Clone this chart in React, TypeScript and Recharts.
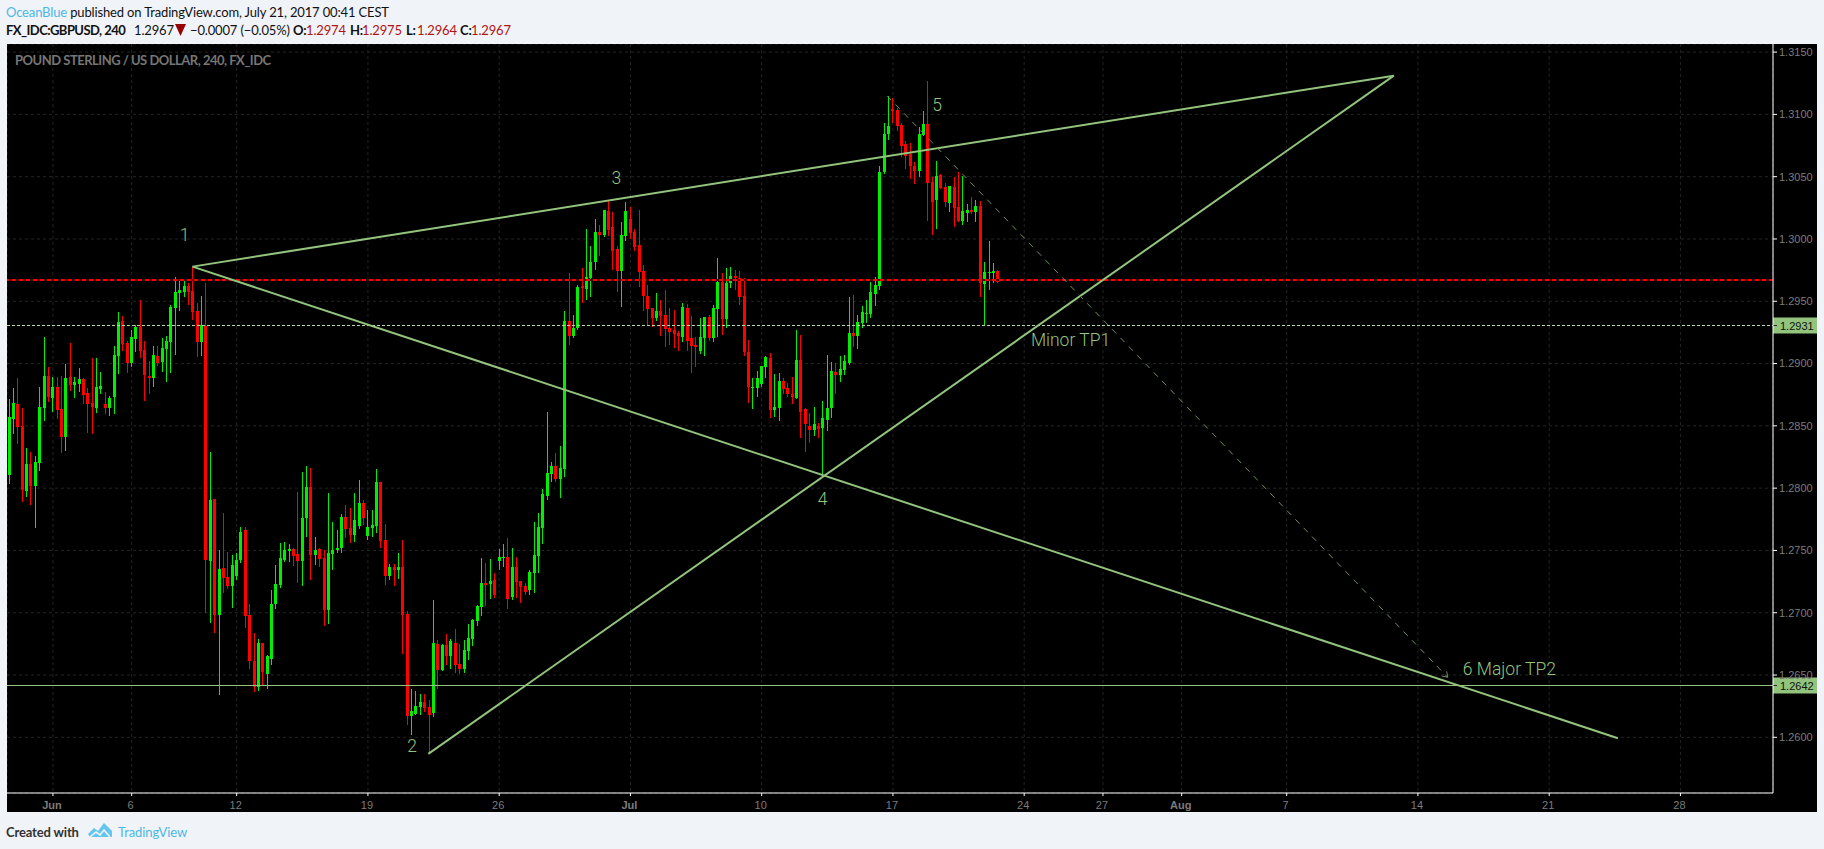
import React from "react";
import { ComposedChart, Bar, XAxis, YAxis, CartesianGrid, ReferenceLine, ReferenceDot } from "recharts";

const highs = [
1.28716,1.28804,1.28884,1.28644,1.28323,1.28290,1.28258,1.28812,1.29213,1.28973,
1.28892,1.28892,1.28900,1.28997,1.29165,1.28892,1.28965,1.28884,1.28804,1.29045,
1.29045,1.28933,1.28772,1.28740,1.29141,1.29414,1.29382,1.29181,1.29270,1.29310,
1.29510,1.29181,1.29021,1.29141,1.29141,1.29205,1.29221,1.29470,1.29695,1.29671,
1.29663,1.29647,1.29775,1.29486,1.29543,1.29647,1.28290,1.27913,1.27504,1.27801,
1.27488,1.27464,1.27480,1.27689,1.27689,1.27071,1.26838,1.26790,1.26758,1.26661,
1.27183,1.27384,1.27560,1.27568,1.27552,1.27520,1.27969,1.28130,1.28178,1.28162,
1.27608,1.27520,1.27504,1.27961,1.27729,1.27664,1.27793,1.27865,1.27841,1.27961,
1.28066,1.27905,1.27825,1.27825,1.28154,1.28050,1.27713,1.27392,1.27392,1.27480,
1.27584,1.27014,1.26388,1.26372,1.26348,1.26348,1.26300,1.27103,1.26782,1.26749,
1.26830,1.26790,1.26870,1.26749,1.26782,1.26910,1.26950,1.27062,1.27440,1.27400,
1.27432,1.27319,1.27512,1.27552,1.27600,1.27520,1.27448,1.27255,1.27239,1.27343,
1.27729,1.27801,1.27993,1.28612,1.28210,1.28282,1.28339,1.29422,1.29727,1.29390,
1.29631,1.29767,1.30080,1.29944,1.30161,1.30112,1.30233,1.30305,1.30217,1.29944,
1.30136,1.30297,1.30257,1.30080,1.30233,1.29791,1.29631,1.29446,1.29567,1.29510,
1.29591,1.29446,1.29430,1.29262,1.29486,1.29478,1.29382,1.29213,1.29366,1.29374,
1.29390,1.29470,1.29848,1.29727,1.29767,1.29775,1.29751,1.29743,1.29687,1.29189,
1.28884,1.28941,1.28981,1.29061,1.29085,1.28916,1.28925,1.28884,1.28844,1.28892,
1.29270,1.29229,1.28644,1.28603,1.28652,1.28523,1.28700,1.29069,1.29013,1.29005,
1.29061,1.29069,1.29534,1.29551,1.29390,1.29462,1.29510,1.29655,1.29695,1.30586,
1.30931,1.31148,1.31132,1.31051,1.30931,1.30787,1.30771,1.30618,1.30899,1.31027,
1.31268,1.30498,1.30626,1.30522,1.30449,1.30425,1.30498,1.30538,1.30506,1.30281,
1.30337,1.30313,1.30305,1.29815,1.29984,1.29807,1.29751,
];
const lows = [
1.28034,1.28435,1.28355,1.27889,1.27929,1.27865,1.27680,1.28138,1.28539,1.28692,
1.28612,1.28555,1.28282,1.28299,1.28780,1.28724,1.28772,1.28676,1.28443,1.28435,
1.28603,1.28756,1.28595,1.28579,1.28595,1.28916,1.29101,1.28925,1.28973,1.29093,
1.29045,1.28700,1.28756,1.28812,1.28981,1.28933,1.28852,1.28925,1.29069,1.29422,
1.29534,1.29470,1.29350,1.29053,1.29061,1.26998,1.26918,1.26838,1.26340,1.27159,
1.27191,1.27038,1.27263,1.27400,1.26878,1.26549,1.26364,1.26372,1.26420,1.26388,
1.26581,1.27030,1.27199,1.27408,1.27408,1.27376,1.27239,1.27215,1.27608,1.27263,
1.27384,1.27367,1.26894,1.26910,1.27343,1.27480,1.27480,1.27600,1.27560,1.27568,
1.27672,1.27705,1.27584,1.27608,1.27640,1.27520,1.27223,1.27263,1.27215,1.27271,
1.26669,1.26099,1.26019,1.26180,1.26180,1.26204,1.25867,1.26164,1.26388,1.26533,
1.26581,1.26549,1.26517,1.26509,1.26517,1.26621,1.26733,1.26894,1.26974,1.27054,
1.27111,1.27119,1.27343,1.27367,1.27030,1.27103,1.27119,1.27079,1.27143,1.27143,
1.27159,1.27319,1.27552,1.27905,1.28050,1.28050,1.27921,1.28090,1.29149,1.29205,
1.29270,1.29486,1.29510,1.29534,1.29751,1.29864,1.30016,1.30024,1.29751,1.29575,
1.29454,1.29984,1.30000,1.29904,1.29615,1.29422,1.29302,1.29294,1.29342,1.29221,
1.29133,1.29149,1.29125,1.29101,1.29173,1.29101,1.28925,1.28973,1.29077,1.29061,
1.29181,1.29173,1.29213,1.29229,1.29286,1.29607,1.29591,1.29470,1.29061,1.28684,
1.28636,1.28732,1.28812,1.28884,1.28563,1.28571,1.28539,1.28756,1.28732,1.28676,
1.28716,1.28403,1.28290,1.28363,1.28419,1.28403,1.28098,1.28459,1.28563,1.28756,
1.28852,1.28908,1.28989,1.29133,1.29117,1.29286,1.29326,1.29366,1.29462,1.29591,
1.30522,1.30795,1.30931,1.30867,1.30658,1.30562,1.30482,1.30441,1.30498,1.30827,
1.30144,1.30032,1.30080,1.30401,1.30257,1.30217,1.30096,1.30136,1.30112,1.30136,
1.30201,1.30136,1.29534,1.29310,1.29591,1.29647,1.29647,
];
const opens = [
1.28106,1.28555,1.28676,1.28499,1.27977,1.28194,1.28018,1.28202,1.28644,1.28900,
1.28724,1.28812,1.28636,1.28411,1.28892,1.28828,1.28836,1.28876,1.28764,1.28684,
1.28644,1.28796,1.28676,1.28644,1.28732,1.29061,1.29342,1.29165,1.29005,1.29197,
1.29294,1.29109,1.28900,1.28884,1.29061,1.29013,1.29117,1.29173,1.29446,1.29567,
1.29575,1.29623,1.29583,1.29422,1.29173,1.29302,1.27416,1.27913,1.26982,1.27359,
1.27287,1.27215,1.27295,1.27424,1.27664,1.26982,1.26613,1.26404,1.26758,1.26509,
1.26629,1.27071,1.27223,1.27424,1.27496,1.27512,1.27472,1.27416,1.27761,1.28010,
1.27464,1.27512,1.27440,1.27022,1.27472,1.27504,1.27520,1.27769,1.27680,1.27624,
1.27697,1.27881,1.27616,1.27680,1.27697,1.28050,1.27584,1.27295,1.27367,1.27343,
1.27367,1.26990,1.26172,1.26188,1.26244,1.26284,1.26244,1.26196,1.26749,1.26541,
1.26741,1.26653,1.26758,1.26589,1.26549,1.26693,1.26790,1.26934,1.27046,1.27239,
1.27231,1.27263,1.27416,1.27440,1.27448,1.27127,1.27367,1.27255,1.27215,1.27183,
1.27319,1.27456,1.27680,1.27937,1.28114,1.28178,1.28074,1.28154,1.29342,1.29221,
1.29286,1.29623,1.29599,1.29687,1.29815,1.30056,1.30032,1.30225,1.30096,1.29920,
1.29743,1.30024,1.30161,1.30056,1.29952,1.29743,1.29543,1.29446,1.29366,1.29422,
1.29390,1.29286,1.29270,1.29246,1.29213,1.29446,1.29205,1.29149,1.29101,1.29205,
1.29374,1.29205,1.29438,1.29655,1.29358,1.29647,1.29703,1.29687,1.29543,1.29093,
1.28804,1.28804,1.28836,1.28973,1.29045,1.28628,1.28644,1.28860,1.28804,1.28756,
1.28724,1.29029,1.28636,1.28499,1.28467,1.28499,1.28483,1.28547,1.28644,1.28933,
1.28908,1.28949,1.29005,1.29246,1.29221,1.29326,1.29398,1.29398,1.29559,1.29623,
1.30538,1.30843,1.31043,1.31035,1.30915,1.30762,1.30682,1.30586,1.30546,1.30835,
1.30923,1.30457,1.30313,1.30514,1.30417,1.30289,1.30417,1.30257,1.30144,1.30209,
1.30233,1.30217,1.30265,1.29639,1.29727,1.29727,1.29743,
];
const closes = [
1.28571,1.28684,1.28491,1.27985,1.28194,1.28018,1.28210,1.28652,1.28900,1.28732,
1.28812,1.28628,1.28411,1.28884,1.28828,1.28852,1.28876,1.28748,1.28676,1.28652,
1.28812,1.28820,1.28644,1.28724,1.29069,1.29334,1.29157,1.29005,1.29213,1.29294,
1.29101,1.28908,1.28884,1.29069,1.29005,1.29125,1.29181,1.29454,1.29575,1.29591,
1.29623,1.29575,1.29414,1.29173,1.29310,1.27424,1.27905,1.26982,1.27351,1.27279,
1.27215,1.27384,1.27424,1.27648,1.26974,1.26613,1.26404,1.26758,1.26525,1.26653,
1.27071,1.27231,1.27440,1.27504,1.27512,1.27456,1.27416,1.27761,1.28010,1.27464,
1.27504,1.27432,1.27022,1.27480,1.27504,1.27520,1.27769,1.27672,1.27624,1.27745,
1.27881,1.27761,1.27689,1.27705,1.28050,1.27576,1.27295,1.27367,1.27343,1.27367,
1.26982,1.26172,1.26212,1.26252,1.26284,1.26236,1.26180,1.26758,1.26541,1.26741,
1.26653,1.26774,1.26581,1.26549,1.26701,1.26798,1.26942,1.27054,1.27239,1.27223,
1.27255,1.27143,1.27448,1.27448,1.27111,1.27367,1.27247,1.27207,1.27167,1.27327,
1.27464,1.27689,1.27953,1.28122,1.28178,1.28074,1.28162,1.29342,1.29221,1.29286,
1.29615,1.29607,1.29695,1.29815,1.30056,1.30032,1.30233,1.30072,1.29904,1.29743,
1.30032,1.30225,1.30048,1.29936,1.29735,1.29543,1.29438,1.29366,1.29422,1.29382,
1.29278,1.29254,1.29238,1.29221,1.29454,1.29181,1.29141,1.29133,1.29213,1.29374,
1.29205,1.29446,1.29655,1.29358,1.29647,1.29703,1.29687,1.29534,1.29093,1.28812,
1.28812,1.28884,1.28981,1.29053,1.28628,1.28652,1.28860,1.28796,1.28756,1.28732,
1.29029,1.28612,1.28515,1.28467,1.28515,1.28475,1.28563,1.28644,1.28941,1.28908,
1.28957,1.29021,1.29246,1.29221,1.29334,1.29414,1.29406,1.29575,1.29631,1.30538,
1.30843,1.30907,1.31027,1.30907,1.30746,1.30666,1.30586,1.30546,1.30843,1.30923,
1.30449,1.30297,1.30506,1.30409,1.30297,1.30425,1.30249,1.30144,1.30225,1.30233,
1.30217,1.30265,1.29647,1.29735,1.29735,1.29743,1.29655,
];

const xTickIndex = [10.2, 28.2, 52.2, 82.2, 112.2, 142.2, 172.2, 202.2, 232.2, 250.2, 268.2, 292.2, 322.2, 352.2, 382.2];
const xTickLabels = ["Jun", "6", "12", "19", "26", "Jul", "10", "17", "24", "27", "Aug", "7", "14", "21", "28"];
const yTicks = [1.26, 1.265, 1.27, 1.275, 1.28, 1.285, 1.29, 1.295, 1.3, 1.305, 1.31, 1.315];

const upperLine = [{ x: 42.1, y: 1.29778 }, { x: 316.7, y: 1.31311 }];
const lowerLine = [{ x: 42.1, y: 1.29778 }, { x: 367.9, y: 1.25993 }];
const supportLine = [{ x: 96, y: 1.25867 }, { x: 316.7, y: 1.31311 }];
const projection = [{ x: 200.9, y: 1.31148 }, { x: 329, y: 1.26482 }];

const annotations = [
  { text: "1", x: 40.3, y: 1.30032 },
  { text: "2", x: 92.3, y: 1.25931 },
  { text: "3", x: 139, y: 1.3049 },
  { text: "4", x: 186.1, y: 1.27913 },
  { text: "5", x: 212.3, y: 1.31075 },
  { text: "Minor TP1", x: 242.8, y: 1.29189 },
  { text: "6 Major TP2", x: 343.1, y: 1.26549 },
];

const rows = highs.map((h, i) => ({ i, high: h, low: lows[i], open: opens[i], close: closes[i] }));

const GREEN = "#00ee00";
const RED = "#ff0000";
const TREND = "#93c47d";
const AXIS_FONT = "'Liberation Sans', Arial, sans-serif";
const UI_FONT = "Lato, sans-serif";

function Candle(props: any) {
  const { x, y, width, height, payload } = props;
  const pxPerUnit = height / (payload.high - payload.low);
  const bodyTop = y + (payload.high - Math.max(payload.open, payload.close)) * pxPerUnit;
  const bodyBottom = y + (payload.high - Math.min(payload.open, payload.close)) * pxPerUnit;
  const color = payload.close >= payload.open ? GREEN : RED;
  const cx = Math.round(x + width / 2);
  return (
    <g shapeRendering="crispEdges">
      <rect x={cx} y={y} width={1} height={height} fill={color} />
      <rect x={cx - 1} y={bodyTop} width={3} height={Math.max(bodyBottom - bodyTop, 1.5)} fill={color} />
    </g>
  );
}

function XTick(props: any) {
  const { x, y, payload } = props;
  const label = xTickLabels[xTickIndex.indexOf(payload.value)];
  const bold = /[a-z]/i.test(label);
  return (
    <text x={x - 1} y={y + 11} textAnchor="middle" fontFamily={AXIS_FONT} fontSize={11} fontWeight={bold ? 700 : 400} fill="#7c7c7c">
      {label}
    </text>
  );
}

function PriceLine(props: any) {
  const { x1, x2, y1, dash, text } = props;
  const left = Math.min(x1, x2);
  const right = Math.max(x1, x2);
  const y = Math.round(y1) + 0.5;
  return (
    <g>
      <line x1={left} x2={right} y1={y} y2={y} stroke={dash ? "#b6d7a8" : TREND} strokeWidth={1} strokeDasharray={dash ? "3 2" : undefined} />
      <rect x={right} y={y - 8} width={44} height={16} fill={TREND} />
      <line x1={right} x2={right + 4} y1={y} y2={y} stroke="#222" />
      <text x={right + 7} y={y + 4} fontFamily={AXIS_FONT} fontSize={11} fill="#111">{text}</text>
    </g>
  );
}

function ArrowLine(props: any) {
  const { x1, y1, x2, y2 } = props;
  const a = Math.atan2(y2 - y1, x2 - x1);
  const h = 6;
  return (
    <g stroke="#6f8f60" fill="none" strokeWidth={1}>
      <line x1={x1} y1={y1} x2={x2} y2={y2} strokeDasharray="6 6" />
      <line x1={x2} y1={y2} x2={x2 - h * Math.cos(a - 0.6)} y2={y2 - h * Math.sin(a - 0.6)} />
      <line x1={x2} y1={y2} x2={x2 - h * Math.cos(a + 0.6)} y2={y2 - h * Math.sin(a + 0.6)} />
    </g>
  );
}

const at = (left: number, top: number): React.CSSProperties => ({ position: "absolute", left, top, whiteSpace: "nowrap" });
const headerLine: React.CSSProperties = { fontSize: 13, letterSpacing: -0.15, lineHeight: "18px", color: "#111" };

const quote = [
  { label: "O:", lx: 293, value: "1.2974", vx: 306 },
  { label: "H:", lx: 350, value: "1.2975", vx: 362 },
  { label: "L:", lx: 406, value: "1.2964", vx: 417 },
  { label: "C:", lx: 460, value: "1.2967", vx: 471 },
];

export default function App() {
  return (
    <div style={{ position: "absolute", left: 0, top: 0, width: 1824, height: 849, background: "#f0f3f7", overflow: "hidden", fontFamily: UI_FONT, color: "#222" }}>
      <div style={{ ...at(6, 3), ...headerLine }}>
        <span style={{ color: "#4cb8e8" }}>OceanBlue</span> published on TradingView.com, July 21, 2017 00:41 CEST
      </div>
      <b style={{ ...at(6, 21), ...headerLine, letterSpacing: -0.55 }}>FX_IDC:GBPUSD, 240</b>
      <span style={{ ...at(134, 21), ...headerLine }}>1.2967</span>
      <svg style={at(175, 24)} width={12} height={12}><path d="M0 0 H11 L5.5 12 Z" fill="#990000" /></svg>
      <span style={{ ...at(190, 21), ...headerLine }}>−0.0007 (−0.05%)</span>
      {quote.map((q) => (
        <React.Fragment key={q.label}>
          <b style={{ ...at(q.lx, 21), ...headerLine }}>{q.label}</b>
          <span style={{ ...at(q.vx, 21), ...headerLine, color: "#b01515" }}>{q.value}</span>
        </React.Fragment>
      ))}

      <div style={{ position: "absolute", left: 7, top: 44, width: 1810, height: 768, background: "#000" }}>
        <ComposedChart width={1810} height={768} data={rows} margin={{ top: 0, right: 0, bottom: 0, left: 0 }}>
          <CartesianGrid stroke="#242424" strokeDasharray="3 3" />
          <XAxis
            dataKey="i"
            type="number"
            domain={[-0.297, 403.36]}
            allowDataOverflow
            ticks={xTickIndex}
            interval={0}
            height={19}
            stroke="#fff"
            tickSize={3}
            tick={<XTick />}
          />
          <YAxis
            type="number"
            orientation="right"
            domain={[1.25553, 1.31565]}
            allowDataOverflow
            ticks={yTicks}
            interval={0}
            width={44}
            stroke="#fff"
            tickSize={4}
            tickMargin={2}
            tickFormatter={(v: number) => v.toFixed(4)}
            tick={{ fill: "#7c7c7c", fontSize: 11, fontFamily: AXIS_FONT, textAnchor: "start" }}
          />
          <Bar dataKey={(d: any) => [d.low, d.high]} barSize={3} shape={<Candle />} isAnimationActive={false} />
          <ReferenceLine y={1.2967} stroke="#4a0000" strokeWidth={2} />
          <ReferenceLine y={1.2967} stroke={RED} strokeWidth={2} strokeDasharray="4 3" />
          <ReferenceLine y={1.2931} shape={<PriceLine dash text="1.2931" />} />
          <ReferenceLine y={1.2642} shape={<PriceLine text="1.2642" />} />
          <ReferenceLine segment={upperLine} stroke={TREND} strokeWidth={2} />
          <ReferenceLine segment={lowerLine} stroke={TREND} strokeWidth={2} />
          <ReferenceLine segment={supportLine} stroke={TREND} strokeWidth={2} />
          <ReferenceLine segment={projection} shape={<ArrowLine />} />
          {annotations.map((a) => (
            <ReferenceDot
              key={a.text}
              x={a.x}
              y={a.y}
              r={0}
              fill="none"
              stroke="none"
              label={{ value: a.text, position: "center", fill: TREND, fontSize: 17.5, fontFamily: "Roboto, sans-serif", fontWeight: 300 }}
            />
          ))}
        </ComposedChart>
      </div>
      <div style={{ ...at(15, 52), color: "#767676", fontSize: 13, letterSpacing: -0.5, fontWeight: 700, lineHeight: "16px" }}>
        POUND STERLING / US DOLLAR, 240, FX_IDC
      </div>

      <div style={{ ...at(6, 823), fontSize: 13, letterSpacing: -0.15, lineHeight: "18px", fontWeight: 700, color: "#333" }}>Created with</div>
      <svg style={at(87, 822)} width={26} height={18} viewBox="0 0 26 18">
        <path d="M1 12 L7 6 L11 9 L17 1 L25 9 L25 15 L3 15 Z" fill="#62c6ee" />
        <path d="M3 15 L9 10 L13 13 L17 8 L23 15" fill="none" stroke="#f0f3f7" strokeWidth={1.6} />
      </svg>
      <div style={{ ...at(118, 823), fontSize: 13, letterSpacing: -0.1, lineHeight: "18px", color: "#4cb8e8" }}>TradingView</div>
    </div>
  );
}
